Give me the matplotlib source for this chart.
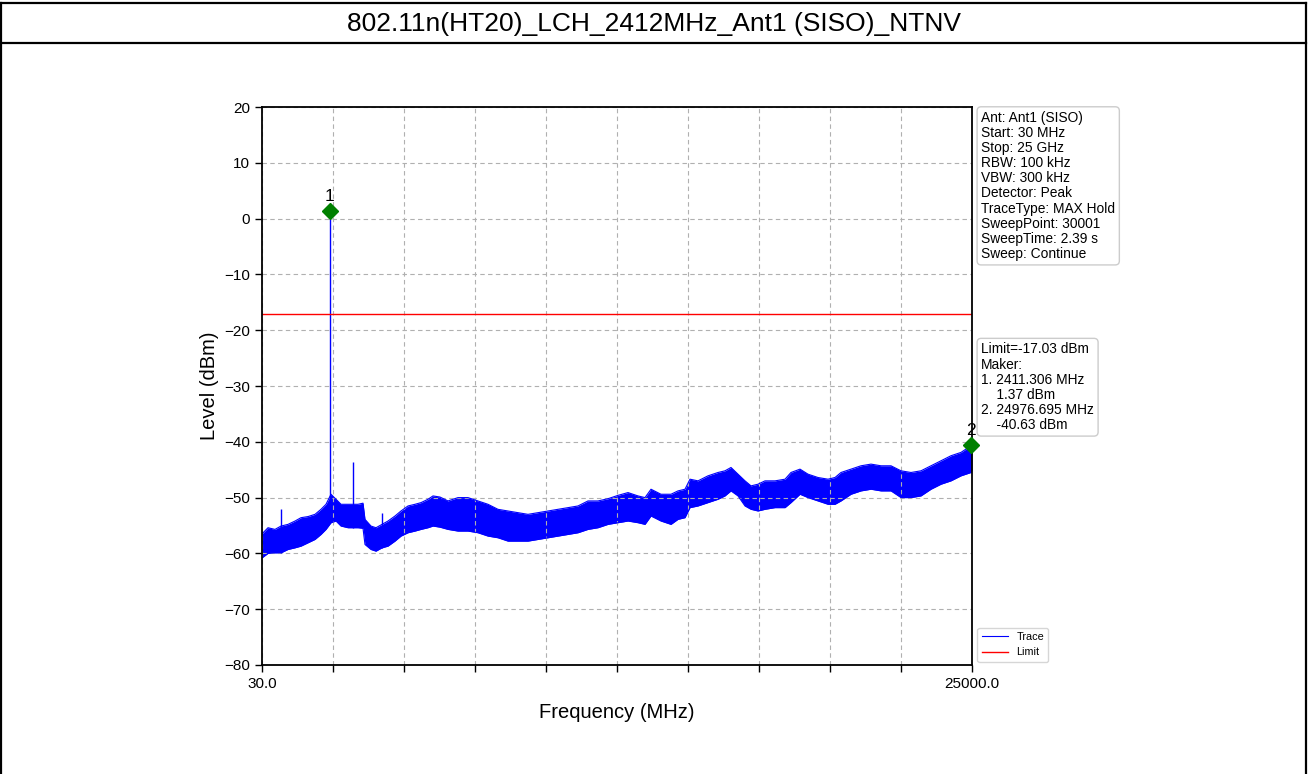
import matplotlib
matplotlib.use("Agg")
import matplotlib.pyplot as plt
from matplotlib.lines import Line2D
import numpy as np

plt.rcParams['font.family'] = ['Liberation Sans', 'DejaVu Sans']

title = "802.11n(HT20)_LCH_2412MHz_Ant1 (SISO)_NTNV"

# Spectrum trace envelope (MHz, dBm): upper and lower edge of the max-hold band
freq_mhz = [30, 241, 487, 698, 944, 1191, 1402, 1648, 1894, 2105, 2281, 2457, 2633,
            2808, 3055, 3406, 3582, 3652, 3863, 4039, 4250, 4461, 4707, 4918, 5165,
            5411, 5622, 5868, 6044, 6290, 6571, 6923, 7275, 7626, 7978, 8330, 8682,
            9033, 9385, 9737, 10088, 10440, 10792, 11143, 11495, 11847, 12198, 12550,
            12902, 13254, 13500, 13711, 14062, 14414, 14660, 14906, 15082, 15364,
            15715, 16067, 16313, 16524, 16770, 17017, 17228, 17474, 17720, 18072,
            18424, 18634, 18951, 19232, 19584, 19936, 20182, 20393, 20745, 21096,
            21448, 21800, 22151, 22503, 22855, 23206, 23558, 23910, 24261, 24613,
            24965, 25000]
level_upper = [-56.5, -55.4, -55.7, -55.1, -54.8, -54.2, -53.6, -53.4, -53.0, -52.1,
               -51.2, -49.4, -50.3, -51.2, -51.2, -51.2, -51.0, -53.9, -55.1, -55.4,
               -54.8, -54.2, -53.3, -52.4, -51.5, -51.2, -50.9, -50.3, -49.7, -49.9,
               -50.6, -50.0, -50.0, -50.6, -51.2, -52.1, -52.4, -52.7, -53.0, -52.7,
               -52.4, -52.1, -51.8, -51.5, -50.6, -50.6, -50.2, -49.6, -49.1, -49.7,
               -50.0, -48.5, -49.4, -49.4, -48.8, -48.5, -46.7, -47.0, -46.1, -45.5,
               -45.2, -44.6, -45.8, -47.0, -47.9, -47.6, -47.0, -47.0, -46.7, -45.5,
               -44.9, -45.8, -46.4, -46.7, -46.4, -45.5, -44.9, -44.3, -44.0, -44.3,
               -44.3, -45.2, -45.5, -45.2, -44.3, -43.4, -42.5, -41.9, -40.7, -40.5]
level_lower = [-60.8, -60.0, -59.9, -59.9, -59.3, -59.0, -58.7, -58.1, -57.5, -56.6,
               -55.7, -54.5, -54.2, -55.1, -55.4, -55.4, -55.5, -58.4, -59.3, -59.6,
               -59.0, -58.7, -57.8, -56.9, -56.3, -56.0, -55.7, -55.4, -55.1, -55.3,
               -55.7, -56.0, -56.0, -56.3, -56.9, -57.2, -57.8, -57.8, -57.8, -57.5,
               -57.2, -56.9, -56.6, -56.3, -55.7, -55.4, -54.8, -54.5, -54.2, -54.5,
               -54.8, -53.3, -54.2, -54.8, -53.9, -53.6, -51.8, -51.5, -50.9, -50.3,
               -49.7, -48.8, -49.7, -51.5, -52.1, -52.4, -52.1, -51.8, -51.8, -50.9,
               -49.4, -50.0, -50.6, -51.2, -51.2, -50.6, -49.4, -48.8, -48.5, -48.8,
               -48.8, -50.0, -50.0, -49.7, -48.5, -47.6, -47.0, -46.1, -45.5, -45.0]

# Narrow spurs rising out of the band (MHz, top level dBm, base level dBm)
spur_freq = [700, 2411.306, 3230, 4250]
spur_top = [-52.0, 1.37, -43.7, -52.7]
spur_base = [-59.9, -54.5, -55.4, -59.0]

limit_dbm = -17.03
marker_freq = [2411.306, 24976.695]
marker_level = [1.37, -40.63]
marker_names = ["1", "2"]

x_start, x_stop = 30.0, 25000.0
y_ticks = [-80, -70, -60, -50, -40, -30, -20, -10, 0, 10, 20]

info_lines = ["Ant: Ant1 (SISO)", "Start: 30 MHz", "Stop: 25 GHz", "RBW: 100 kHz",
              "VBW: 300 kHz", "Detector: Peak", "TraceType: MAX Hold",
              "SweepPoint: 30001", "SweepTime: 2.39 s", "Sweep: Continue"]

W, H = 1308, 774
fig = plt.figure(figsize=(W / 100, H / 100), dpi=100)
fig.patch.set_facecolor("white")

# Frame around the page and the title row
for (x0, y0, x1, y1) in [(1, 3, 1306, 3), (1, 43, 1306, 43), (1, 3, 1, 774), (1306, 3, 1306, 774)]:
    fig.add_artist(Line2D([x0 / W, x1 / W], [1 - y0 / H, 1 - y1 / H],
                          color="black", lw=1.6, transform=fig.transFigure))
fig.text(0.5, 1 - 24 / H, title, ha="center", va="center", fontsize=19)

ax = fig.add_axes([262 / W, 1 - 665 / H, 710 / W, 558 / H])

ax.fill_between(freq_mhz, level_lower, level_upper, color="blue", lw=0)
ax.plot(freq_mhz, level_upper, color="blue", lw=0.8, label="Trace")
ax.plot(freq_mhz, level_lower, color="blue", lw=0.8)
ax.vlines(spur_freq, spur_base, spur_top, color="blue", lw=1.0)
ax.axhline(limit_dbm, color="red", lw=1.0, label="Limit")

for f, lv, name in zip(marker_freq, marker_level, marker_names):
    ax.plot(f, lv, marker="D", color="green", markersize=8, clip_on=False, zorder=5)
    ax.annotate(name, (f, lv), xytext=(0, 5), textcoords="offset points",
                ha="center", va="bottom", fontsize=12.5, annotation_clip=False)

ax.set_xlim(x_start, x_stop)
ax.set_ylim(-80, 20)
xt = np.linspace(x_start, x_stop, 11)
ax.set_xticks(xt)
ax.set_xticklabels([f"{x_start:.1f}"] + [""] * 9 + [f"{x_stop:.1f}"])
ax.set_yticks(y_ticks)
ax.tick_params(labelsize=11, length=5, width=1)
ax.grid(True, linestyle=(0, (4, 3)), color="#b0b0b0", lw=0.8)
for s in ax.spines.values():
    s.set_linewidth(1.3)
ax.set_xlabel("Frequency (MHz)", fontsize=14.5, labelpad=9)
ax.set_ylabel("Level (dBm)", fontsize=14.5, labelpad=4)

box = dict(boxstyle="round,pad=0.3", facecolor="white", edgecolor="#cccccc", lw=1)
ax.text(1.013, 0.993, "\n".join(info_lines), transform=ax.transAxes, ha="left", va="top",
        fontsize=9.9, linespacing=1.1, bbox=box)

marker_text = [f"Limit={limit_dbm:.2f} dBm", "Maker:"]
for i, (f, lv) in enumerate(zip(marker_freq, marker_level), start=1):
    marker_text.append(f"{i}. {f:.3f} MHz")
    marker_text.append(f"    {lv:.2f} dBm")
ax.text(1.013, 0.578, "\n".join(marker_text), transform=ax.transAxes, ha="left", va="top",
        fontsize=9.9, linespacing=1.1, bbox=box)

ax.legend(loc="lower left", bbox_to_anchor=(1.003, 0.0), fontsize=7.8, handlelength=2.4,
          borderaxespad=0.3, edgecolor="#cccccc")

fig.savefig("out.png", dpi=100)
